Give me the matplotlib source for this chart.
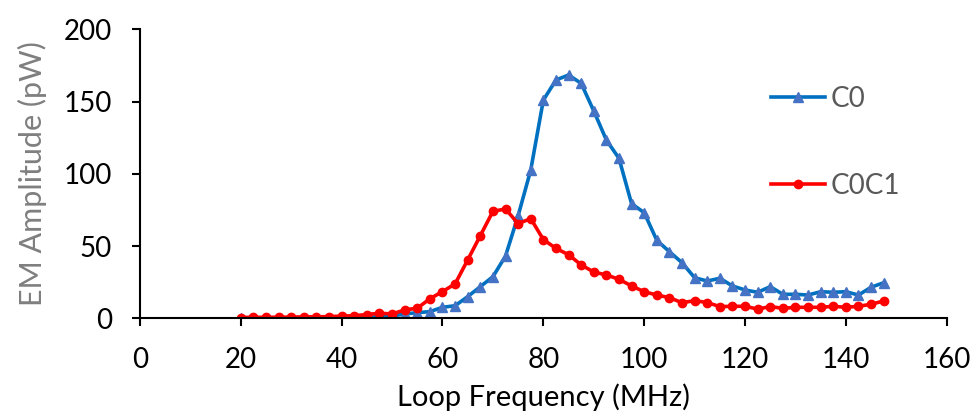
import matplotlib
matplotlib.use("Agg")
import matplotlib.pyplot as plt

plt.rcParams['font.family'] = ['Lato', 'DejaVu Sans']

# loop frequency (MHz)
freq = [20, 22.5, 25, 27.5, 30, 32.5, 35, 37.5, 40, 42.5,
        45, 47.5, 50, 52.5, 55, 57.5, 60, 62.5, 65, 67.5,
        70, 72.5, 75, 77.5, 80, 82.5, 85, 87.5, 90, 92.5,
        95, 97.5, 100, 102.5, 105, 107.5, 110, 112.5, 115, 117.5,
        120, 122.5, 125, 127.5, 130, 132.5, 135, 137.5, 140, 142.5,
        145, 147.5]

# EM amplitude (pW)
c0 = [0.2, 0.3, 0.3, 0.3, 0.4, 0.4, 0.5, 0.5, 0.6, 0.7,
      0.8, 1.1, 1.5, 3.0, 3.9, 4.6, 7.6, 8.7, 15.0, 21.9,
      28.8, 43.1, 71.0, 102.6, 151.0, 164.9, 168.4, 162.6, 143.5, 123.4,
      110.7, 79.3, 73.1, 54.0, 46.1, 38.5, 28.1, 25.8, 27.7, 22.4,
      19.6, 18.0, 21.9, 16.6, 16.6, 16.1, 18.4, 18.0, 18.4, 16.1,
      21.5, 24.6]

c0c1 = [0.5, 0.8, 0.6, 0.8, 0.8, 1.0, 1.0, 1.2, 1.5, 1.8,
        2.6, 3.5, 3.0, 5.8, 7.0, 13.5, 18.5, 23.8, 40.4, 57.2,
        74.0, 75.7, 65.5, 69.0, 54.5, 48.4, 44.0, 37.0, 32.0, 30.0,
        27.0, 22.4, 18.4, 16.1, 14.3, 10.8, 12.2, 10.9, 8.1, 8.3,
        8.3, 6.4, 8.1, 6.9, 7.6, 7.6, 7.6, 8.3, 7.6, 8.3,
        9.7, 12.0]

x_ticks = [0, 20, 40, 60, 80, 100, 120, 140, 160]
y_ticks = [0, 50, 100, 150, 200]

fig = plt.figure(figsize=(9.76, 4.17), dpi=100)
ax = fig.add_axes([0.1434, 0.2367, 0.9700 - 0.1434, 0.9297 - 0.2367])

ax.plot(freq, c0, color='#0070C0', lw=2.6, marker='^', markersize=7,
        markerfacecolor='#4472C4', markeredgecolor='#4472C4', label='C0')
ax.plot(freq, c0c1, color='#FF0000', lw=2.6, marker='o', markersize=6,
        markerfacecolor='#FF0000', markeredgecolor='#FF0000', label='C0C1')

ax.set_xlim(0, 160)
ax.set_ylim(0, 200)
ax.set_xticks(x_ticks)
ax.set_yticks(y_ticks)
ax.tick_params(axis='both', labelsize=20, length=6, width=1.5, direction='out')
ax.tick_params(axis='x', pad=15)
ax.tick_params(axis='y', pad=14)

for side in ['top', 'right']:
    ax.spines[side].set_visible(False)
for side in ['left', 'bottom']:
    ax.spines[side].set_linewidth(1.5)

ax.set_xlabel('Loop Frequency (MHz)', fontsize=21, labelpad=7)
ax.set_ylabel('EM Amplitude (pW)', fontsize=22, color='#7F7F7F', labelpad=12)

leg = ax.legend(loc='upper left', bbox_to_anchor=(746 / 976, 1 - 61 / 417),
                bbox_transform=fig.transFigure, frameon=False, fontsize=20,
                handlelength=1.95, labelspacing=2.2, handletextpad=0.2)
for t in leg.get_texts():
    t.set_color('#595959')

fig.savefig('out.png', dpi=100)
